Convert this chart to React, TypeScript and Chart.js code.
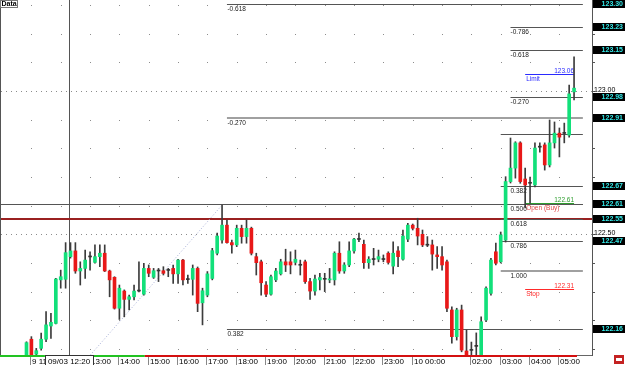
import React, { useEffect, useRef } from 'react';
import { Chart, registerables } from 'chart.js';

Chart.register(...registerables);

const FONT = '"Liberation Sans", Arial, Helvetica, sans-serif';
const GREEN = '#12e07a';
const RED = '#e81818';

// 10-minute candles, index 1 = 09 10:50 ... index 113 = 10 05:30
const opens = [
  122.075, 122.134, 122.082, 122.102, 122.134, 122.180, 122.189, 122.341, 122.343, 122.422,
  122.442, 122.372, 122.381, 122.422, 122.402, 122.422, 122.434, 122.372, 122.350, 122.242,
  122.302, 122.273, 122.282, 122.302, 122.291, 122.381, 122.350, 122.373, 122.373, 122.375,
  122.381, 122.362, 122.410, 122.343, 122.343, 122.381, 122.261, 122.288, 122.346, 122.434,
  122.480, 122.532, 122.471, 122.463, 122.521, 122.492, 122.521, 122.422, 122.404, 122.323,
  122.291, 122.341, 122.362, 122.404, 122.404, 122.402, 122.393, 122.404, 122.335, 122.302,
  122.341, 122.344, 122.341, 122.341, 122.434, 122.372, 122.393, 122.442, 122.483, 122.465,
  122.401, 122.413, 122.413, 122.413, 122.434, 122.389, 122.442, 122.413, 122.483, 122.532,
  122.521, 122.500, 122.463, 122.463, 122.428, 122.422, 122.404, 122.236, 122.143, 122.236,
  122.093, 122.096, 122.110, 122.070, 122.201, 122.294, 122.439, 122.404, 122.480, 122.684,
  122.731, 122.819, 122.693, 122.679, 122.672, 122.805, 122.812, 122.742, 122.819, 122.853,
  122.853, 122.846, 122.997,
];
const highs = [
  122.125, 122.143, 122.102, 122.155, 122.230, 122.224, 122.346, 122.375, 122.471, 122.471,
  122.471, 122.404, 122.445, 122.439, 122.463, 122.463, 122.463, 122.375, 122.352, 122.323,
  122.306, 122.288, 122.323, 122.404, 122.399, 122.393, 122.381, 122.381, 122.387, 122.381,
  122.393, 122.413, 122.413, 122.358, 122.393, 122.386, 122.312, 122.370, 122.451, 122.504,
  122.602, 122.550, 122.480, 122.532, 122.532, 122.550, 122.525, 122.434, 122.410, 122.335,
  122.358, 122.381, 122.413, 122.448, 122.439, 122.445, 122.410, 122.410, 122.346, 122.358,
  122.364, 122.364, 122.381, 122.439, 122.474, 122.401, 122.474, 122.486, 122.504, 122.480,
  122.422, 122.451, 122.445, 122.428, 122.439, 122.474, 122.457, 122.515, 122.538, 122.536,
  122.556, 122.515, 122.492, 122.480, 122.457, 122.457, 122.410, 122.247, 122.242, 122.253,
  122.166, 122.124, 122.156, 122.212, 122.317, 122.416, 122.469, 122.508, 122.701, 122.836,
  122.823, 122.823, 122.731, 122.700, 122.819, 122.819, 122.819, 122.899, 122.892, 122.871,
  122.888, 123.021, 123.119,
];
const lows = [
  122.070, 122.070, 122.079, 122.096, 122.125, 122.137, 122.187, 122.312, 122.312, 122.417,
  122.364, 122.323, 122.346, 122.375, 122.399, 122.387, 122.370, 122.282, 122.239, 122.203,
  122.212, 122.236, 122.271, 122.299, 122.288, 122.352, 122.346, 122.335, 122.358, 122.352,
  122.329, 122.329, 122.323, 122.329, 122.288, 122.230, 122.184, 122.282, 122.341, 122.428,
  122.469, 122.469, 122.434, 122.457, 122.469, 122.469, 122.428, 122.358, 122.288, 122.282,
  122.288, 122.335, 122.358, 122.370, 122.362, 122.393, 122.358, 122.329, 122.273, 122.288,
  122.306, 122.300, 122.331, 122.323, 122.364, 122.364, 122.387, 122.434, 122.474, 122.381,
  122.381, 122.393, 122.404, 122.404, 122.396, 122.362, 122.387, 122.410, 122.474, 122.515,
  122.463, 122.457, 122.457, 122.375, 122.381, 122.375, 122.230, 122.120, 122.131, 122.090,
  122.072, 122.074, 122.074, 122.065, 122.195, 122.288, 122.393, 122.400, 122.473, 122.679,
  122.696, 122.678, 122.592, 122.609, 122.665, 122.787, 122.724, 122.735, 122.801, 122.770,
  122.819, 122.839, 122.969,
];
const closes = [
  122.122, 122.076, 122.094, 122.134, 122.184, 122.193, 122.344, 122.352, 122.436, 122.442,
  122.372, 122.381, 122.410, 122.421, 122.422, 122.434, 122.372, 122.341, 122.242, 122.312,
  122.273, 122.282, 122.302, 122.303, 122.381, 122.364, 122.373, 122.372, 122.364, 122.374,
  122.362, 122.410, 122.341, 122.342, 122.381, 122.259, 122.303, 122.362, 122.443, 122.494,
  122.532, 122.471, 122.463, 122.521, 122.492, 122.521, 122.434, 122.401, 122.331, 122.291,
  122.352, 122.372, 122.404, 122.393, 122.393, 122.413, 122.392, 122.335, 122.302, 122.344,
  122.349, 122.343, 122.344, 122.434, 122.372, 122.393, 122.442, 122.483, 122.482, 122.401,
  122.413, 122.412, 122.422, 122.412, 122.402, 122.434, 122.422, 122.494, 122.532, 122.521,
  122.494, 122.463, 122.462, 122.431, 122.422, 122.393, 122.242, 122.143, 122.236, 122.096,
  122.079, 122.095, 122.109, 122.195, 122.312, 122.410, 122.399, 122.498, 122.684, 122.731,
  122.819, 122.684, 122.672, 122.678, 122.801, 122.804, 122.742, 122.819, 122.853, 122.839,
  122.852, 122.990, 123.010,
];

// time axis (candle index of each labelled hour)
const hourTicks = [2, 8, 14, 20, 26, 32, 38, 44, 50, 56, 62, 68, 74, 80, 92, 98, 104, 110];
const hourLabels = ['9 11:00', '12:00', '13:00', '14:00', '15:00', '16:00', '17:00', '18:00', '19:00',
  '20:00', '21:00', '22:00', '23:00', '10 00:00', '02:00', '03:00', '04:00', '05:00'];
const gridHours = [2, 8, 14, 20, 26, 32, 38, 44, 50, 56, 62, 68, 74, 80, 86, 92, 98, 104, 110];
const gridPrices = [123.3, 123.2, 123.1, 122.9, 122.8, 122.7, 122.6, 122.4, 122.3, 122.2, 122.1];
const dottedPrices = [123.0, 122.5];
const axisLabelPrices = [123.0, 122.5];
const axisLabelTexts = ['123.00', '122.50'];

// Fibonacci set 1 (left)
const fib1Labels = ['-0.618', '-0.270', '0.382'];
const fib1Prices = [123.304, 122.906, 122.169];
const fib1Thick = [false, true, false];
const fib1Span = [42, 114.8];
// Fibonacci set 2 (right)
const fib2Labels = ['-0.786', '-0.618', '-0.270', '', '0.382', '0.500', '0.618', '0.786', '1.000'];
const fib2Prices = [123.223, 123.143, 122.979, 122.850, 122.669, 122.605, 122.553, 122.477, 122.372];
const fib2Start = [100, 100, 100, 98, 98, 98, 98, 98, 98];
const fib2Thick = [false, false, false, false, false, false, false, false, true];
const fib2End = 114.8;
const fib2LabelAt = 100;

// full-width horizontal lines
const hLinePrices = [122.605, 122.553];
const hLineColors = ['#555555', '#9a2020'];

// orders
const orderNames = ['Limit', 'Open (Buy)', 'Stop'];
const orderPrices = [123.06, 122.61, 122.31];
const orderPriceText = ['123.06', '122.61', '122.31'];
const orderColors = ['#2a2aff', '#2e9e2e', '#ff2a2a'];
const orderNameColors = ['#2a2aff', '#e04848', '#ff2a2a'];
const orderSpan = [103, 113];

// axis boxes (price labels on right)
const boxTexts = ['123.32', '123.30', '123.23', '123.15', '122.98', '122.91', '122.67', '122.61', '122.55', '122.47', '122.16'];
const boxPrices = [123.322, 123.304, 123.223, 123.143, 122.979, 122.906, 122.669, 122.605, 122.553, 122.477, 122.169];

// dotted trend line of fib 1
const trendX = [10, 41];
const trendY = [122.0, 122.602];

// crosshair
const crossIndex = 9.7;
const crossText = '09/03 12:20';

// bottom coloured strip (candle index ranges)
const stripGreenTo = 25.2;
const stripRedTo = 113.6;

const X_MIN = -4.216;
const X_MAX = 116.67;
const Y_MIN = 122.0789;
const Y_MAX = 123.3175;

export default function App() {
  const ref = useRef<HTMLCanvasElement>(null);

  useEffect(() => {
    document.body.style.margin = '0';
    const canvas = ref.current;
    if (!canvas) return;

    const idx = opens.map((_, i) => i + 1);
    const wickData = idx.map((x, i) => ({ x, y: [lows[i], highs[i]] }));
    const bodyData = idx.map((x, i) => ({ x, y: [opens[i], closes[i]] }));
    const bodyColors = idx.map((_, i) =>
      Math.abs(closes[i] - opens[i]) < 0.002 ? '#333333' : closes[i] > opens[i] ? GREEN : RED);

    const overlay = {
      id: 'overlay',
      beforeDraw(chart: any) {
        const c = chart.ctx;
        c.save();
        c.fillStyle = '#ffffff';
        c.fillRect(0, 0, chart.width, chart.height);
        c.restore();
      },
      beforeDatasetsDraw(chart: any) {
        const c = chart.ctx;
        const xs = chart.scales.x;
        const ys = chart.scales.y;
        const a = chart.chartArea;
        const X = (v: number) => xs.getPixelForValue(v);
        const Y = (v: number) => ys.getPixelForValue(v);
        const r = (v: number) => Math.round(v) + 0.5;
        c.save();
        // grid dots
        c.fillStyle = '#8c8c8c';
        gridHours.forEach((h) => gridPrices.forEach((p) => {
          c.fillRect(Math.round(X(h)), Math.round(Y(p)), 1, 1);
        }));
        // dotted price lines
        c.strokeStyle = '#8c8c8c';
        c.lineWidth = 1;
        c.setLineDash([1, 4]);
        dottedPrices.forEach((p) => {
          c.beginPath(); c.moveTo(a.left, r(Y(p))); c.lineTo(a.right, r(Y(p))); c.stroke();
        });
        c.setLineDash([]);
        // left border
        c.strokeStyle = '#555555';
        c.beginPath(); c.moveTo(0.5, a.top); c.lineTo(0.5, a.bottom); c.stroke();
        // crosshair vertical
        c.beginPath(); c.moveTo(r(X(crossIndex)), a.top); c.lineTo(r(X(crossIndex)), a.bottom); c.stroke();
        // horizontal lines
        hLinePrices.forEach((p, i) => {
          c.strokeStyle = hLineColors[i];
          c.lineWidth = i === 1 ? 2 : 1;
          const yy = i === 1 ? Math.round(Y(p)) : r(Y(p));
          c.beginPath(); c.moveTo(a.left, yy); c.lineTo(i === 1 ? a.right : X(fib1Span[1]), yy); c.stroke();
        });
        // fib lines
        const fibLine = (p: number, x0: number, x1: number, thick: boolean) => {
          if (thick) {
            c.strokeStyle = '#a0a0a0'; c.lineWidth = 2;
            c.beginPath(); c.moveTo(x0, Math.round(Y(p))); c.lineTo(x1, Math.round(Y(p))); c.stroke();
          } else {
            c.strokeStyle = '#555555'; c.lineWidth = 1;
            c.beginPath(); c.moveTo(x0, r(Y(p))); c.lineTo(x1, r(Y(p))); c.stroke();
          }
        };
        c.font = `6.5px ${FONT}`;
        c.textBaseline = 'top';
        c.textAlign = 'left';
        fib1Prices.forEach((p, i) => {
          fibLine(p, X(fib1Span[0]), X(fib1Span[1]), fib1Thick[i]);
          c.fillStyle = '#222222';
          c.fillText(fib1Labels[i], X(fib1Span[0]) + 0.5, Y(p) + 2);
        });
        fib2Prices.forEach((p, i) => {
          fibLine(p, X(fib2Start[i]), X(fib2End), fib2Thick[i]);
          if (fib2Labels[i]) {
            c.fillStyle = '#222222';
            c.fillText(fib2Labels[i], X(fib2LabelAt), Y(p) + 2);
          }
        });
        // orders
        orderPrices.forEach((p, i) => {
          const yy = r(Y(p));
          c.strokeStyle = orderColors[i]; c.lineWidth = 1;
          c.beginPath(); c.moveTo(X(orderSpan[0]), yy); c.lineTo(X(orderSpan[1]), yy); c.stroke();
          c.fillStyle = orderColors[i];
          c.textAlign = 'right'; c.textBaseline = 'bottom';
          c.fillText(orderPriceText[i], X(orderSpan[1]), yy);
          c.fillStyle = orderNameColors[i];
          c.textAlign = 'left'; c.textBaseline = 'top';
          c.fillText(orderNames[i], X(orderSpan[0]) + 1, yy + 1);
        });
        c.restore();
      },
      afterDraw(chart: any) {
        const c = chart.ctx;
        const xs = chart.scales.x;
        const ys = chart.scales.y;
        const a = chart.chartArea;
        const X = (v: number) => xs.getPixelForValue(v);
        const Y = (v: number) => ys.getPixelForValue(v);
        c.save();
        // bottom strip
        c.fillStyle = '#22c322';
        c.fillRect(0, a.bottom, X(stripGreenTo), 2);
        c.fillStyle = '#d41010';
        c.fillRect(X(stripGreenTo), a.bottom, X(stripRedTo) - X(stripGreenTo), 2);
        c.fillStyle = '#666666';
        c.fillRect(X(stripRedTo), a.bottom, a.right - X(stripRedTo), 1);
        // time ticks + labels
        c.font = `8px ${FONT}`;
        c.textAlign = 'left';
        c.textBaseline = 'alphabetic';
        hourTicks.forEach((h, i) => {
          const px = Math.round(X(h));
          c.fillStyle = '#888888';
          c.fillRect(px - 1, a.bottom + 2, 1, chart.height - a.bottom - 2);
          c.fillStyle = '#000000';
          c.fillText(hourLabels[i], px + 1, chart.height - 1);
        });
        // right price axis line, ticks, labels
        c.fillStyle = '#555555';
        c.fillRect(Math.round(a.right), 0, 1, a.bottom + 1);
        gridPrices.concat(axisLabelPrices).forEach((p) => c.fillRect(Math.round(a.right) + 1, Math.round(Y(p)), 2, 1));
        c.font = `7px ${FONT}`;
        c.fillStyle = '#000000';
        c.textAlign = 'left';
        c.textBaseline = 'middle';
        axisLabelPrices.forEach((p, i) => c.fillText(axisLabelTexts[i], a.right + 2, Y(p) - 1));
        // axis boxes
        c.font = `bold 7px ${FONT}`;
        c.textAlign = 'right';
        c.textBaseline = 'middle';
        boxPrices.forEach((p, i) => {
          const yy = Math.round(Y(p));
          c.fillStyle = '#000000';
          c.fillRect(a.right + 1, yy - 4, chart.width - a.right - 1, 8);
          c.fillStyle = '#33e6e6';
          c.fillText(boxTexts[i], chart.width - 2, yy + 0.5);
        });
        // crosshair label
        const cx = X(crossIndex);
        c.font = `8px ${FONT}`;
        const tw = c.measureText(crossText).width + 6;
        c.fillStyle = '#ffffff';
        c.fillRect(cx - tw / 2, a.bottom, tw, chart.height - a.bottom);
        c.strokeStyle = '#333333'; c.lineWidth = 1;
        c.strokeRect(Math.round(cx - tw / 2) + 0.5, a.bottom + 0.5, Math.round(tw), chart.height - a.bottom);
        c.fillStyle = '#000000';
        c.textAlign = 'center'; c.textBaseline = 'alphabetic';
        c.fillText(crossText, cx, chart.height - 1);
        // Data label
        c.fillStyle = '#ffffff';
        c.fillRect(0, 0, 18, 8);
        c.strokeStyle = '#777777';
        c.strokeRect(0.5, 0.5, 17, 7);
        c.fillStyle = '#000000';
        c.font = `bold 7px ${FONT}`;
        c.textAlign = 'left'; c.textBaseline = 'middle';
        c.fillText('Data', 1.5, 4.5);
        // corner icon
        c.fillStyle = '#c42222';
        c.fillRect(614, 355, 10, 9);
        c.fillStyle = '#ffffff';
        c.fillRect(616, 358, 6, 3);
        c.restore();
      },
    };

    const chart = new Chart(canvas, {
      type: 'bar',
      data: {
        datasets: [
          {
            type: 'line',
            data: trendX.map((x, i) => ({ x, y: trendY[i] })),
            borderColor: '#a8b0d8',
            borderWidth: 1,
            borderDash: [1, 2],
            pointRadius: 0,
            order: 3,
          } as any,
          {
            data: wickData as any,
            backgroundColor: '#3c3c3c',
            barThickness: 1,
            grouped: false,
            order: 2,
          },
          {
            data: bodyData as any,
            backgroundColor: bodyColors,
            barThickness: 3,
            grouped: false,
            minBarLength: 1,
            order: 1,
          },
        ],
      },
      options: {
        animation: false,
        responsive: false,
        events: [],
        layout: { padding: { left: 1, top: 0, right: 33, bottom: 10 } },
        plugins: { legend: { display: false }, tooltip: { enabled: false } },
        scales: {
          x: {
            type: 'linear',
            display: false,
            offset: false,
            min: X_MIN,
            max: X_MAX,
          },
          y: {
            type: 'linear',
            display: false,
            min: Y_MIN,
            max: Y_MAX,
          },
        },
      },
      plugins: [overlay],
    });

    return () => chart.destroy();
  }, []);

  return (
    <div style={{ width: 625, height: 365, overflow: 'hidden' }}>
      <canvas ref={ref} width={625} height={365} style={{ display: 'block' }} />
    </div>
  );
}
